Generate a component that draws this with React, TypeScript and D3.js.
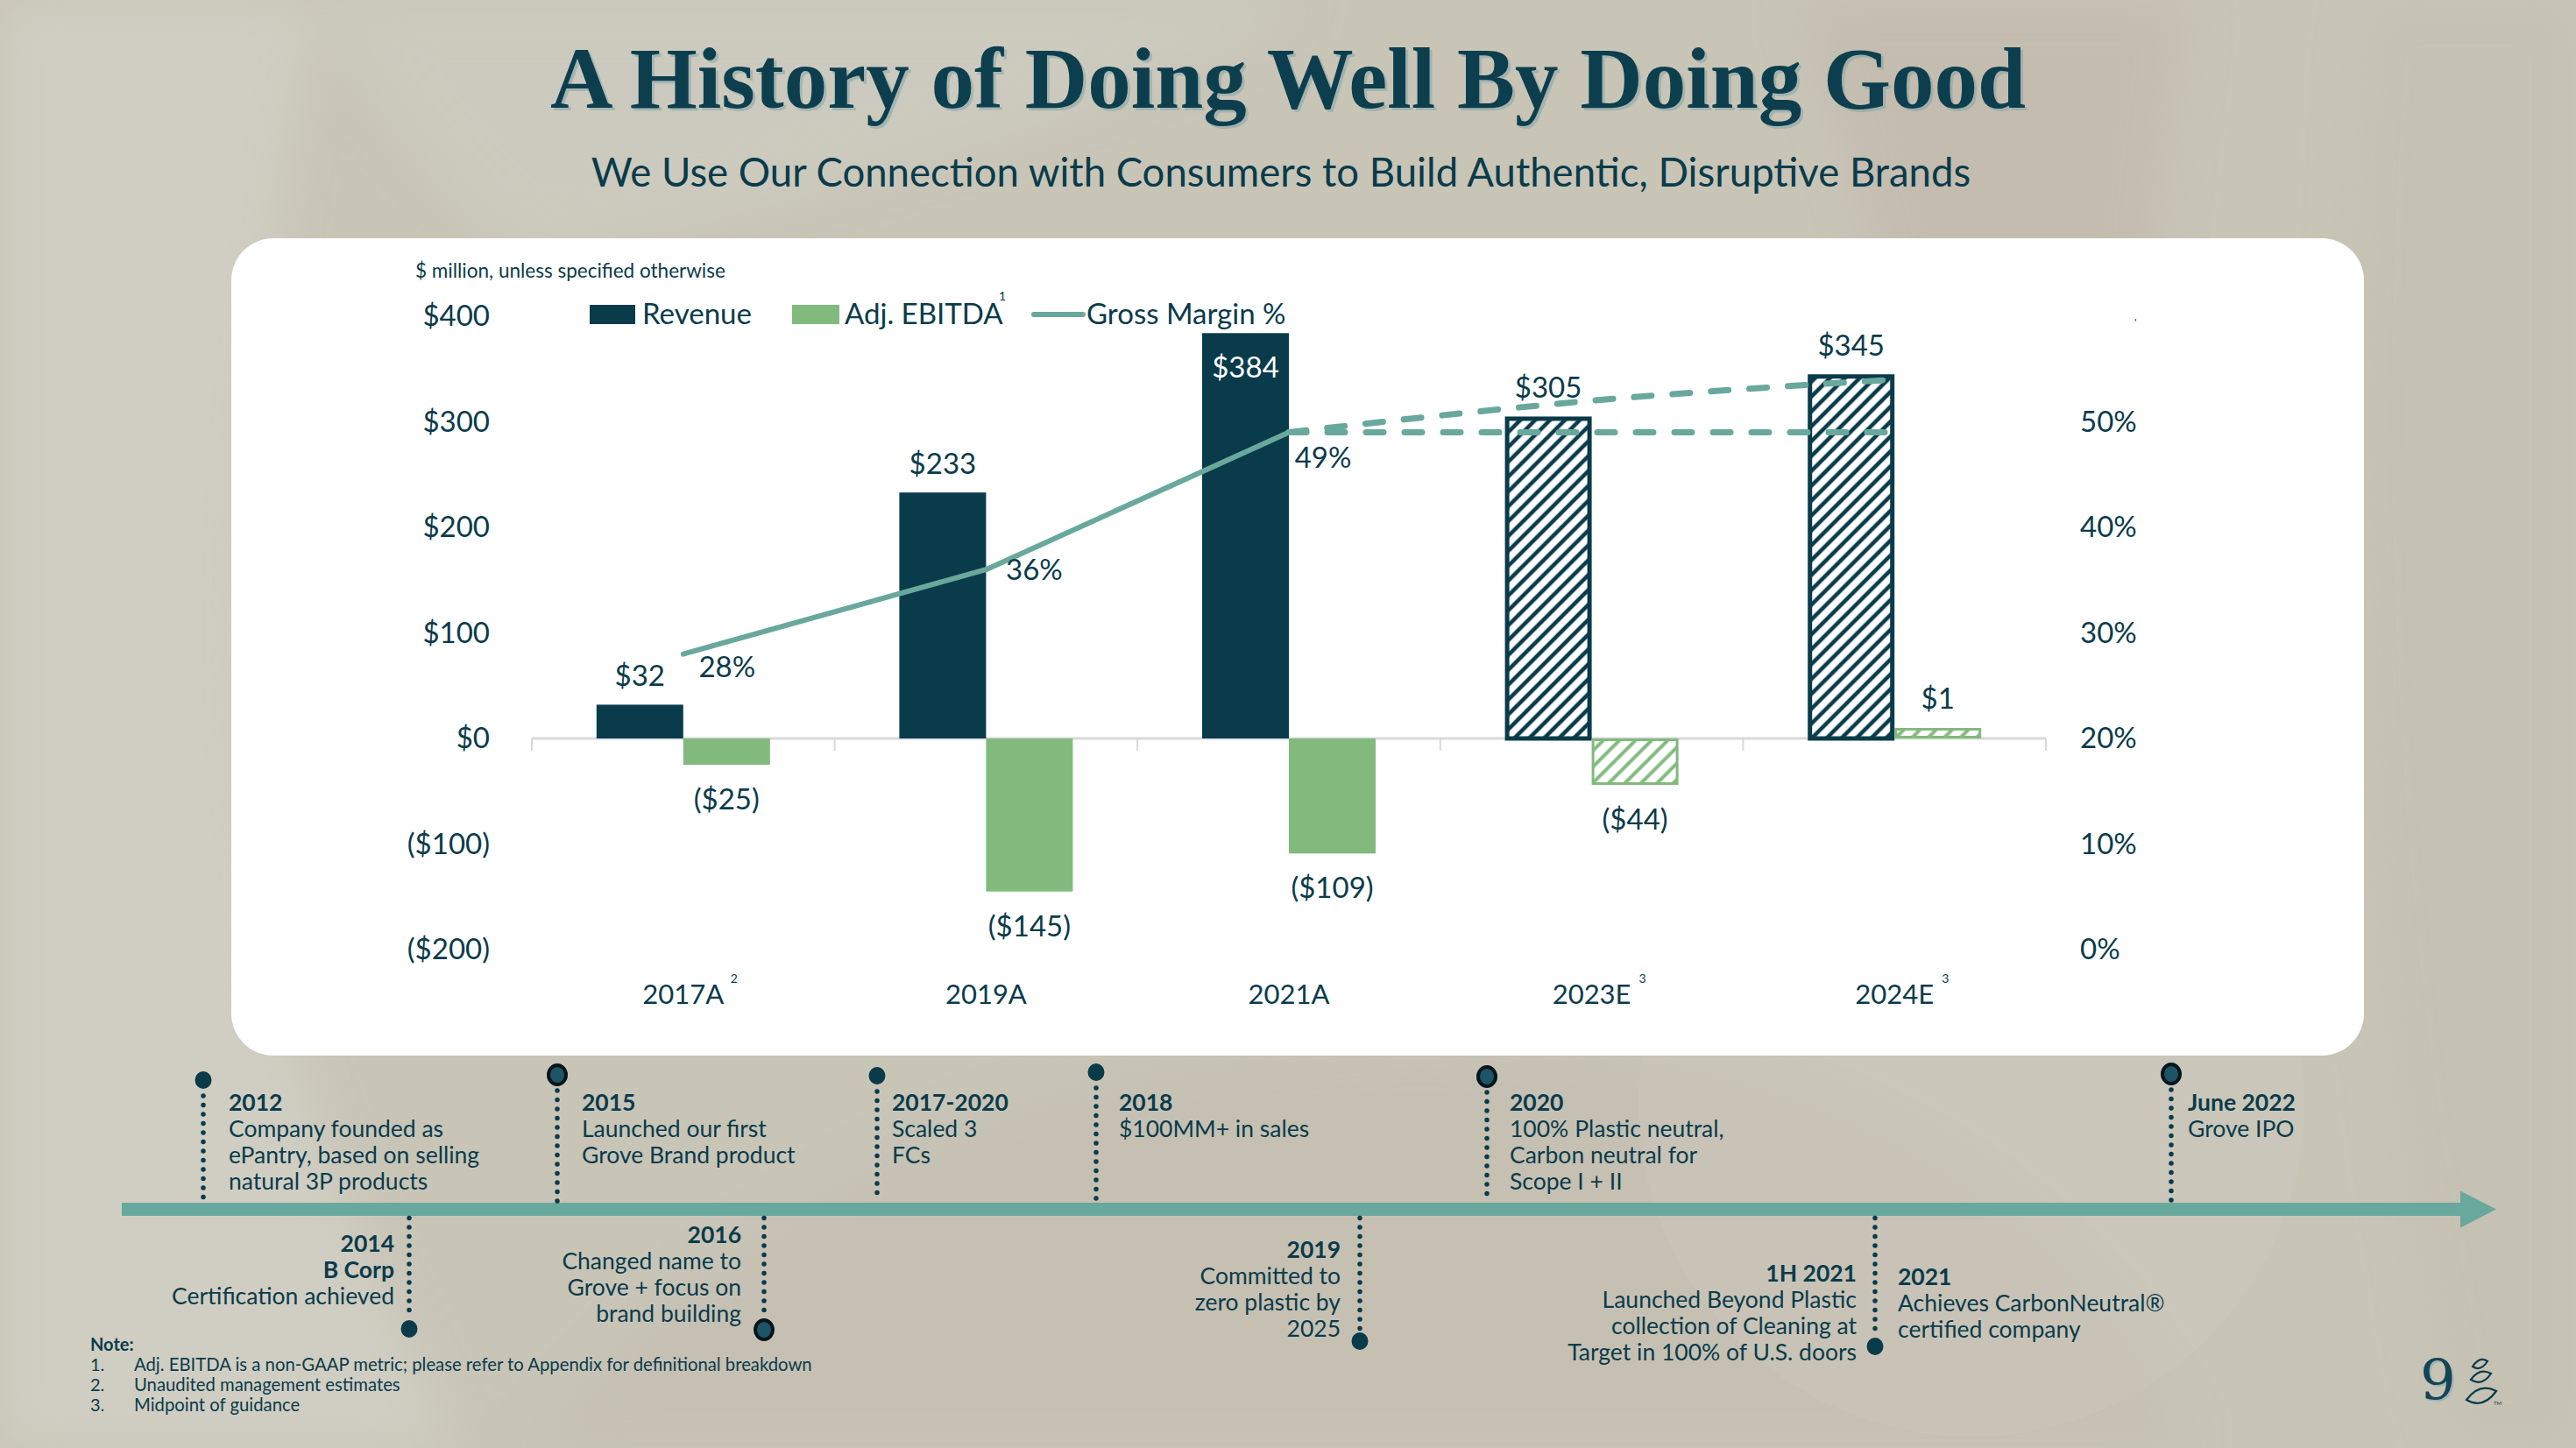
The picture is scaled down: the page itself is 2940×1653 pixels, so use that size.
import React from 'react';
import * as d3 from 'd3';

// ---------- data ----------
const categories = ['2017A', '2019A', '2021A', '2023E', '2024E'];
const categoryNotes = ['2', '', '', '3', '3'];
const revenue = [32, 233, 384, 305, 345];
const adjEbitda = [-25, -145, -109, -44, 1];
const isProjection = [false, false, false, true, true];
const gmActualCats = ['2017A', '2019A', '2021A'];
const gmActual = [28, 36, 49];
const gmProjCats = ['2021A', '2023E', '2024E'];
const gmProjHigh = [49, 52, 54];
const gmProjLow = [49, 49, 49];
const leftTicks = [-200, -100, 0, 100, 200, 300, 400];
const rightTicks = [0, 10, 20, 30, 40, 50];
const legendLabels = ['Revenue', 'Adj. EBITDA', 'Gross Margin %'];

const topEventTitles = ['2012', '2015', '2017-2020', '2018', '2020', 'June 2022'];
const topEventLines = [
  ['Company founded as', 'ePantry, based on selling', 'natural 3P products'],
  ['Launched our first', 'Grove Brand product'],
  ['Scaled 3', 'FCs'],
  ['$100MM+ in sales'],
  ['100% Plastic neutral,', 'Carbon neutral for', 'Scope I + II'],
  ['Grove IPO'],
];
const bottomEventTitles = [['2014', 'B Corp'], ['2016'], ['2019'], ['1H 2021'], ['2021']];
const bottomEventLines = [
  ['Certification achieved'],
  ['Changed name to', 'Grove + focus on', 'brand building'],
  ['Committed to', 'zero plastic by', '2025'],
  ['Launched Beyond Plastic', 'collection of Cleaning at', 'Target in 100% of U.S. doors'],
  ['Achieves CarbonNeutral®', 'certified company'],
];
const notes = [
  'Adj. EBITDA is a non-GAAP metric; please refer to Appendix for definitional breakdown',
  'Unaudited management estimates',
  'Midpoint of guidance',
];

// ---------- styles ----------
const DARK = '#0a3b4b';
const GREEN = '#82ba7e';
const TEAL = '#69a89c';
const FONT = "Lato, 'Noto Sans', sans-serif";

const fmtMoney = (v: number) => (v < 0 ? `($${-v})` : `$${v}`);

export default function App() {
  const W = 2940;
  const H = 1653;

  const x = d3.scaleBand<string>().domain(categories).range([607, 2335]).padding(0);
  const y = d3.scaleLinear().domain([-200, 400]).range([1084, 361]);
  const yPct = d3.scaleLinear().domain([0, 50]).range([y(-200), y(300)]);
  const cx = (c: string) => (x(c) as number) + x.bandwidth() / 2;
  const barW = 99;
  const minBarH = 12;

  const line = d3
    .line<[number, number]>()
    .x((d) => d[0])
    .y((d) => d[1])
    .curve(d3.curveLinear);

  const actualPath = line(gmActualCats.map((c, i) => [cx(c), yPct(gmActual[i])]));
  const highPath = d3
    .line<[number, number]>()
    .x((d) => d[0])
    .y((d) => d[1])
    .curve(d3.curveMonotoneX)(gmProjCats.map((c, i) => [cx(c), yPct(gmProjHigh[i])]));
  const lowPath = line(gmProjCats.map((c, i) => [cx(c), yPct(gmProjLow[i])]));

  const gmLabelOffsets = [
    [50, 26],
    [55, 12],
    [39, 40],
  ];

  // timeline layout
  const tlY = 1380.5;
  const topX = [232, 636, 1001, 1251, 1697, 2478];
  const topDotY = [1233, 1227, 1228, 1224, 1229, 1226];
  const topRing = [false, true, false, false, true, true];
  const topTextDx = [29, 28, 17, 26, 26, 19];
  const botX = [467, 872, 1552, 2140, 2140];
  const botDotY = [1517, 1518, 1531, 1537, null];
  const botRing = [false, true, false, false, false];
  const botFirstY = [1429, 1419, 1436, 1463, 1467];
  const botAnchorRight = [true, true, true, true, false];
  const botTextDx = [-17, -26, -22, -21, 26];

  const boundaries = [...categories.map((c) => x(c) as number), x.range()[1]];

  const TL_FS = 26.5;
  const AX_FS = 33;

  return (
    <svg
      width={W}
      height={H}
      viewBox={`0 0 ${W} ${H}`}
      style={{ position: 'absolute', left: 0, top: 0, display: 'block' }}
      fontFamily={FONT}
    >
      <defs>
        <pattern id="hatchDark" patternUnits="userSpaceOnUse" width="12" height="12" patternTransform="rotate(45)">
          <rect width="12" height="12" fill="#ffffff" />
          <line x1="6" y1="-2" x2="6" y2="14" stroke={DARK} strokeWidth="4.6" />
        </pattern>
        <pattern id="hatchGreen" patternUnits="userSpaceOnUse" width="13" height="13" patternTransform="rotate(45)">
          <rect width="13" height="13" fill="#ffffff" />
          <line x1="6.5" y1="-2" x2="6.5" y2="15" stroke={GREEN} strokeWidth="4" />
        </pattern>
        <filter id="soft" x="-20%" y="-20%" width="140%" height="140%">
          <feGaussianBlur stdDeviation="30" />
        </filter>
      </defs>

      {/* background */}
      <rect width={W} height={H} fill="#c8c5b7" />
      <g filter="url(#soft)" opacity={0.9}>
        <path d="M0,0 H360 C300,300 250,700 300,1000 C330,1250 420,1450 520,1653 H0 Z" fill="#d1cfc4" />
        <path d="M360,0 H1500 C1300,120 900,230 600,300 C480,200 420,100 360,0 Z" fill="#cdcbbf" />
        <path d="M2050,0 H2500 C2450,300 2420,700 2480,1000 L2300,1000 C2250,700 2150,300 2050,0 Z" fill="#c3bcaf" />
        <path d="M2700,0 H2940 V1653 H2800 C2700,1200 2650,600 2700,0 Z" fill="#c5c1b3" />
        <path d="M600,1653 C900,1300 1300,1150 1800,1200 C2200,1250 2400,1450 2500,1653 Z" fill="#c5c0b2" />
      </g>
      <circle cx={2250} cy={1260} r={380} fill="#cdc9bd" opacity={0.35} />

      {/* title */}
      <text x={1470} y={123} textAnchor="middle" fontFamily="'Liberation Serif', serif" fontWeight={700} fontSize={99} fill="#7fa3a8" opacity={0.5} dx={3} dy={3}>
        A History of Doing Well By Doing Good
      </text>
      <text x={1470} y={123} textAnchor="middle" fontFamily="'Liberation Serif', serif" fontWeight={700} fontSize={99} fill="#0d3e4d">
        A History of Doing Well By Doing Good
      </text>
      <text x={1462} y={213} textAnchor="middle" fontSize={45.5} fill={DARK}>
        We Use Our Connection with Consumers to Build Authentic, Disruptive Brands
      </text>

      {/* panel */}
      <rect x={264} y={272} width={2434} height={933} rx={48} ry={48} fill="#ffffff" />

      <text x={474} y={317} fontSize={22.5} fill={DARK}>
        $ million, unless specified otherwise
      </text>

      {/* legend */}
      <rect x={673} y={348} width={52} height={22} fill={DARK} />
      <text x={733} y={370} fontSize={33} fill={DARK}>{legendLabels[0]}</text>
      <rect x={904} y={348} width={54} height={22} fill={GREEN} />
      <text x={964} y={370} fontSize={33} fill={DARK}>{legendLabels[1]}</text>
      <text x={1140} y={343} fontSize={14} fill={DARK}>1</text>
      <line x1={1180} y1={359} x2={1236} y2={359} stroke={TEAL} strokeWidth={6} strokeLinecap="round" />
      <text x={1240} y={370} fontSize={33} fill={DARK}>{legendLabels[2]}</text>
      <text x={2436} y={372} fontSize={12} fill={DARK}>'</text>

      {/* axes */}
      {leftTicks.map((t) => (
        <text key={`l${t}`} x={559} y={y(t) + 11} textAnchor="end" fontSize={AX_FS} fill={DARK}>
          {fmtMoney(t)}
        </text>
      ))}
      {rightTicks.map((t) => (
        <text key={`r${t}`} x={2374} y={yPct(t) + 11} fontSize={AX_FS} fill={DARK}>
          {`${t}%`}
        </text>
      ))}
      <line x1={x.range()[0]} x2={x.range()[1]} y1={y(0)} y2={y(0)} stroke="#d9d9d9" strokeWidth={3} />
      {boundaries.map((b, i) => (
        <line key={`tk${i}`} x1={b} x2={b} y1={y(0)} y2={y(0) + 14} stroke="#d9d9d9" strokeWidth={2} />
      ))}

      {/* bars */}
      {categories.map((c, i) => {
        const c0 = cx(c);
        const rv = revenue[i];
        const eb = adjEbitda[i];
        const proj = isProjection[i];
        const rTop = y(rv);
        const rH = y(0) - rTop;
        const eH = Math.max(Math.abs(y(eb) - y(0)), minBarH);
        const eTop = eb >= 0 ? y(0) - eH : y(0);
        return (
          <g key={c}>
            {proj ? (
              <rect x={c0 - barW + 2.5} y={rTop + 2.5} width={barW - 5} height={rH - 2.5} fill="url(#hatchDark)" stroke={DARK} strokeWidth={5} />
            ) : (
              <rect x={c0 - barW} y={rTop} width={barW} height={rH} fill={DARK} />
            )}
            {proj ? (
              <rect x={c0 + 1.5} y={eTop + 1.5} width={barW - 3} height={eH - 3} fill="url(#hatchGreen)" stroke={GREEN} strokeWidth={3} />
            ) : (
              <rect x={c0} y={eTop} width={barW} height={eH} fill={GREEN} />
            )}
          </g>
        );
      })}

      {/* gross margin lines */}
      <path d={actualPath || ''} fill="none" stroke={TEAL} strokeWidth={6} strokeLinecap="round" strokeLinejoin="round" />
      <path d={highPath || ''} fill="none" stroke={TEAL} strokeWidth={7} strokeDasharray="20 24" strokeLinecap="round" />
      <path d={lowPath || ''} fill="none" stroke={TEAL} strokeWidth={7} strokeDasharray="20 24" strokeLinecap="round" />

      {/* data labels */}
      {categories.map((c, i) => {
        const c0 = cx(c);
        const rv = revenue[i];
        const isMax = rv === d3.max(revenue);
        const rxc = c0 - barW / 2;
        const exc = c0 + barW / 2;
        const eb = adjEbitda[i];
        return (
          <g key={`lab${c}`}>
            {isMax ? (
              <text x={rxc} y={y(rv) + 51} textAnchor="middle" fontSize={AX_FS} fill="#ffffff">{fmtMoney(rv)}</text>
            ) : (
              <text x={rxc} y={y(rv) - 21} textAnchor="middle" fontSize={AX_FS} fill={DARK}>{fmtMoney(rv)}</text>
            )}
            {eb < 0 ? (
              <text x={exc} y={y(eb) + 51} textAnchor="middle" fontSize={AX_FS} fill={DARK}>{fmtMoney(eb)}</text>
            ) : (
              <text x={exc} y={y(eb) - 33} textAnchor="middle" fontSize={AX_FS} fill={DARK}>{fmtMoney(eb)}</text>
            )}
            <text x={c0} y={1146} textAnchor="middle" fontSize={31} fill={DARK}>{c}</text>
            {categoryNotes[i] && (
              <text x={c0 + 54} y={1122} fontSize={14} fill={DARK}>{categoryNotes[i]}</text>
            )}
          </g>
        );
      })}
      {gmActualCats.map((c, i) => (
        <text key={`gm${c}`} x={cx(c) + gmLabelOffsets[i][0]} y={yPct(gmActual[i]) + gmLabelOffsets[i][1]} textAnchor="middle" fontSize={AX_FS} fill={DARK}>
          {`${gmActual[i]}%`}
        </text>
      ))}

      {/* timeline */}
      <rect x={139} y={tlY - 7.5} width={2672} height={15} fill={TEAL} />
      <polygon points={`2808,${tlY - 21} 2849,${tlY} 2808,${tlY + 21}`} fill={TEAL} />

      {topEventTitles.map((t, i) => {
        const lx = topX[i];
        const dy = topDotY[i];
        const tx = lx + topTextDx[i];
        return (
          <g key={`te${i}`}>
            <line x1={lx} x2={lx} y1={dy + 18} y2={tlY - 9} stroke={DARK} strokeWidth={5.5} strokeDasharray="0 10.5" strokeLinecap="round" />
            {topRing[i] ? (
              <ellipse cx={lx} cy={dy} rx={10} ry={11} fill="#1d5567" stroke="#06151b" strokeWidth={4} />
            ) : (
              <ellipse cx={lx} cy={dy} rx={9.5} ry={10} fill={DARK} />
            )}
            <text x={tx} y={1268} fontSize={TL_FS} fontWeight={700} fill={DARK}>{t}</text>
            {topEventLines[i].map((l, j) => (
              <text key={j} x={tx} y={1298 + j * 30} fontSize={TL_FS} fill={DARK}>{l}</text>
            ))}
          </g>
        );
      })}

      {bottomEventTitles.map((titles, i) => {
        const lx = botX[i];
        const dy = botDotY[i];
        const tx = lx + botTextDx[i];
        const anchor = botAnchorRight[i] ? 'end' : 'start';
        const y0 = botFirstY[i];
        return (
          <g key={`be${i}`}>
            {dy !== null && (
              <>
                <line x1={lx} x2={lx} y1={tlY + 10} y2={dy - 14} stroke={DARK} strokeWidth={5.5} strokeDasharray="0 10.5" strokeLinecap="round" />
                {botRing[i] ? (
                  <ellipse cx={lx} cy={dy} rx={10} ry={11} fill="#1d5567" stroke="#06151b" strokeWidth={4} />
                ) : (
                  <ellipse cx={lx} cy={dy} rx={9.5} ry={10} fill={DARK} />
                )}
              </>
            )}
            {titles.map((t, j) => (
              <text key={`t${j}`} x={tx} y={y0 + j * 30} textAnchor={anchor} fontSize={TL_FS} fontWeight={700} fill={DARK}>{t}</text>
            ))}
            {bottomEventLines[i].map((l, j) => (
              <text key={j} x={tx} y={y0 + (titles.length + j) * 30} textAnchor={anchor} fontSize={TL_FS} fill={DARK}>{l}</text>
            ))}
          </g>
        );
      })}

      {/* notes */}
      <text x={103} y={1542} fontSize={20} fontWeight={700} fill={DARK}>Note:</text>
      {notes.map((n, i) => (
        <g key={`n${i}`}>
          <text x={103} y={1565 + i * 23} fontSize={20} fill={DARK}>{`${i + 1}.`}</text>
          <text x={153} y={1565 + i * 23} fontSize={20.3} fill={DARK}>{n}</text>
        </g>
      ))}

      {/* page number & logo */}
      <text x={2762} y={1598} fontFamily="'DejaVu Serif', serif" fontSize={64} fill="#9fb3b5" dx={2} dy={2}>9</text>
      <text x={2762} y={1598} fontFamily="'DejaVu Serif', serif" fontSize={64} fill="#144455">9</text>
      <g fill="none" stroke={DARK} strokeWidth={2.2}>
        <path d="M2822,1560 Q2830,1548 2839,1554 Q2831,1566 2822,1560 Z" />
        <path d="M2820,1575 Q2830,1561 2843,1568 Q2833,1583 2820,1575 Z" />
        <path d="M2815,1598 Q2830,1578 2849,1588 Q2834,1609 2815,1598 Z" />
      </g>
      <text x={2846} y={1604} fontSize={6} fill={DARK}>TM</text>
    </svg>
  );
}
